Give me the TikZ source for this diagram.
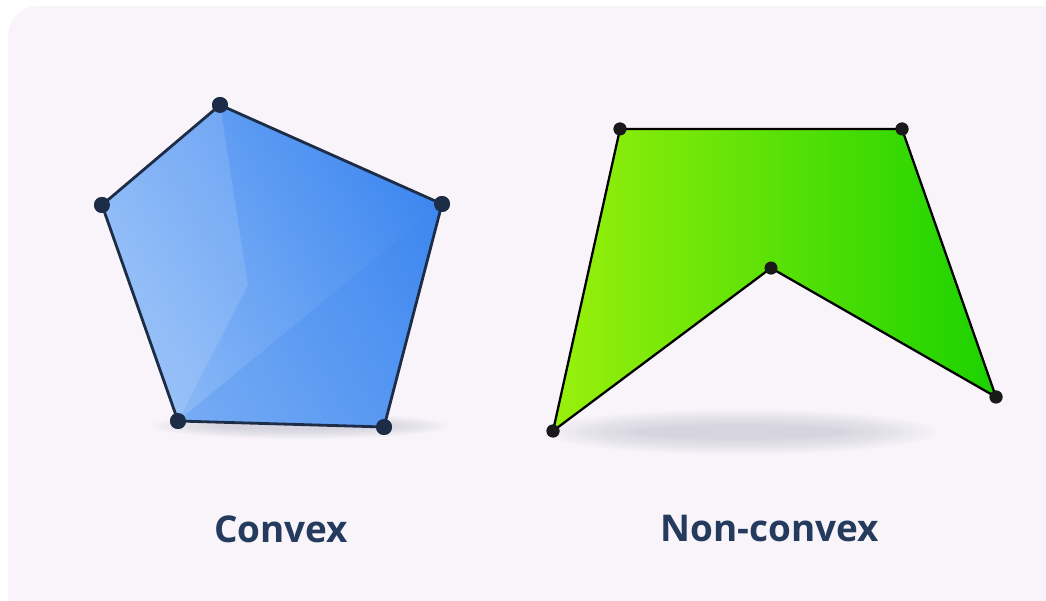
\documentclass[tikz,border=0pt]{standalone}
\usepackage{fontspec}
\setmainfont{Open Sans}
\usetikzlibrary{positioning}
\definecolor{bgpink}{HTML}{F8F4F9}
\definecolor{navy}{HTML}{1E2D47}
\definecolor{textnavy}{HTML}{243B5E}
\definecolor{bluelight}{HTML}{8DBAF7}
\definecolor{bluedark}{HTML}{3F88F0}
\definecolor{greenlight}{HTML}{9AF00C}
\definecolor{greendark}{HTML}{1BD200}
\definecolor{shadowgray}{HTML}{8A90AA}
\begin{document}
\begin{tikzpicture}[x=0.02cm,y=-0.02cm,
 label/.style={font=\fontsize{21}{25}\selectfont\bfseries,text=textnavy},
 bdot/.style={circle,fill=navy,inner sep=0pt,minimum size=16*0.02cm},
 gdot/.style={circle,fill=black!90,inner sep=0pt,minimum size=13*0.02cm},
 edge/.style={line width=1.6pt,line join=round}]
\useasboundingbox (0,0) rectangle (1046,601);
\fill[bgpink,rounded corners=0.6cm] (8,6) rectangle (1070,625);
% soft shadows
\foreach \k in {1,...,10}{
 \fill[shadowgray,opacity=0.03] (300,426) ellipse ({155-7*\k} and {14-\k});
 \fill[shadowgray,opacity=0.03] (740,432) ellipse ({205-10*\k} and {24-1.7*\k});
}
% convex pentagon
\node[bdot] (ctop) at (220,105) {};
\node[bdot] (cright) at (442,204) {};
\node[bdot] (cbr) at (384,427) {};
\node[bdot] (cbl) at (178,421) {};
\node[bdot] (cleft) at (102,205) {};
\path[left color=bluelight,right color=bluedark,shading angle=120]
 (ctop.center) -- (cright.center) -- (cbr.center) -- (cbl.center) -- (cleft.center) -- cycle;
\fill[white,opacity=0.12] (ctop.center) -- (248,285) -- (cbl.center) -- (cleft.center) -- cycle;
\fill[bluedark,opacity=0.25] (cbl.center) -- (cright.center) -- (cbr.center) -- cycle;
\draw[edge,navy] (ctop.center) -- (cright.center) -- (cbr.center) -- (cbl.center) -- (cleft.center) -- cycle;
\foreach \v in {ctop,cright,cbr,cbl,cleft} \node[bdot] at (\v) {};
% non-convex polygon
\node[gdot] (ntl) at (620,129) {};
\node[gdot] (ntr) at (902,129) {};
\node[gdot] (nbr) at (996,397) {};
\node[gdot] (nmid) at (771,268) {};
\node[gdot] (nbl) at (553,431) {};
\path[left color=greenlight,right color=greendark]
 (ntl.center) -- (ntr.center) -- (nbr.center) -- (nmid.center) -- (nbl.center) -- cycle;
\draw[edge,black,line width=1.3pt] (ntl.center) -- (ntr.center) -- (nbr.center) -- (nmid.center) -- (nbl.center) -- cycle;
\foreach \v in {ntl,ntr,nbr,nmid,nbl} \node[gdot] at (\v) {};
% captions
\node[label] (convex) at (281,529) {Convex};
\node[label] (nonconvex) at (770,529) {Non-convex};
\end{tikzpicture}
\end{document}
